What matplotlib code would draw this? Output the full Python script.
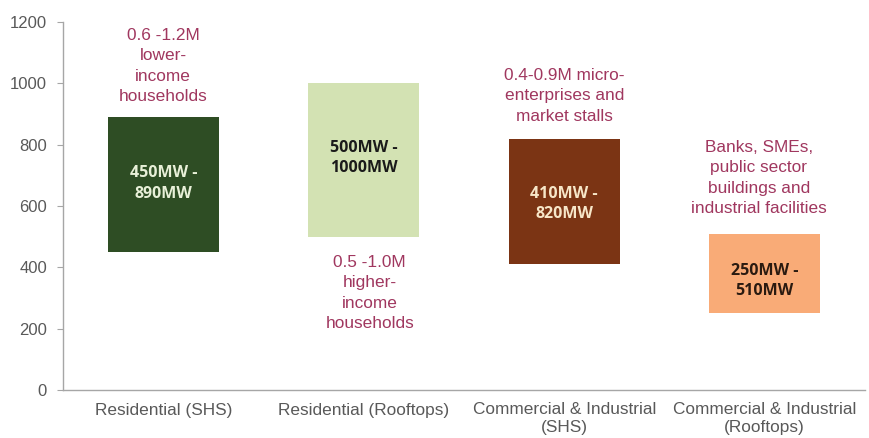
import matplotlib
matplotlib.use("Agg")
import matplotlib.pyplot as plt

plt.rcParams['font.family'] = ['Liberation Sans', 'DejaVu Sans']

categories = ["Residential (SHS)", "Residential (Rooftops)",
              "Commercial & Industrial\n(SHS)", "Commercial & Industrial\n(Rooftops)"]
low_mw = [450, 500, 410, 250]
high_mw = [890, 1000, 820, 510]
range_labels = ["450MW -\n890MW", "500MW -\n1000MW", "410MW -\n820MW", "250MW -\n510MW"]
segment_labels = ["0.6 -1.2M\nlower-\nincome\nhouseholds",
                  "0.5 -1.0M\nhigher-\nincome\nhouseholds",
                  "0.4-0.9M micro-\nenterprises and\nmarket stalls",
                  "Banks, SMEs,\npublic sector\nbuildings and\nindustrial facilities"]
segment_label_y = [1056, 316, 959, 691]
segment_label_dx = [0, 0.03, 0, -0.03]
range_label_dy = [4, 6, -9, -25]

bar_colors = ["#2e4d24", "#d3e2b3", "#7b3414", "#f9ab77"]
range_text_colors = ["#e8f0d8", "#1a1a1a", "#f7e6c8", "#2a1a10"]
annot_color = "#a0375f"
axis_gray = "#a6a6a6"
tick_gray = "#595959"

fig = plt.figure(figsize=(8.7, 4.38), dpi=100)
ax = fig.add_axes([63 / 870, 1 - 390 / 438, 802 / 870, 368 / 438])

x = list(range(len(categories)))
heights = [h - l for l, h in zip(low_mw, high_mw)]
ax.bar(x, heights, bottom=low_mw, width=0.555, color=bar_colors, zorder=2)

for i in x:
    mid = (low_mw[i] + high_mw[i]) / 2
    ax.text(i, mid + range_label_dy[i], range_labels[i], ha="center", va="center",
            fontsize=11.5, fontweight="bold", color=range_text_colors[i],
            linespacing=1.37, family=["Open Sans", "DejaVu Sans"])
    ax.text(i + segment_label_dx[i], segment_label_y[i], segment_labels[i],
            ha="center", va="center", fontsize=12.4, color=annot_color,
            linespacing=1.45)

ax.set_xlim(-0.5, 3.5)
ax.set_ylim(0, 1200)
ax.set_yticks(range(0, 1201, 200))
ax.set_xticks(x)
ax.set_xticklabels(categories, fontsize=12.4, color=tick_gray, linespacing=1.22)
ax.tick_params(axis="x", length=0, pad=9)
ax.tick_params(axis="y", length=4, color=axis_gray, labelsize=12,
               labelcolor=tick_gray, pad=7.5)
for side in ("top", "right"):
    ax.spines[side].set_visible(False)
for side in ("left", "bottom"):
    ax.spines[side].set_color(axis_gray)
    ax.spines[side].set_linewidth(1.0)

fig.savefig("out.png", dpi=100)
